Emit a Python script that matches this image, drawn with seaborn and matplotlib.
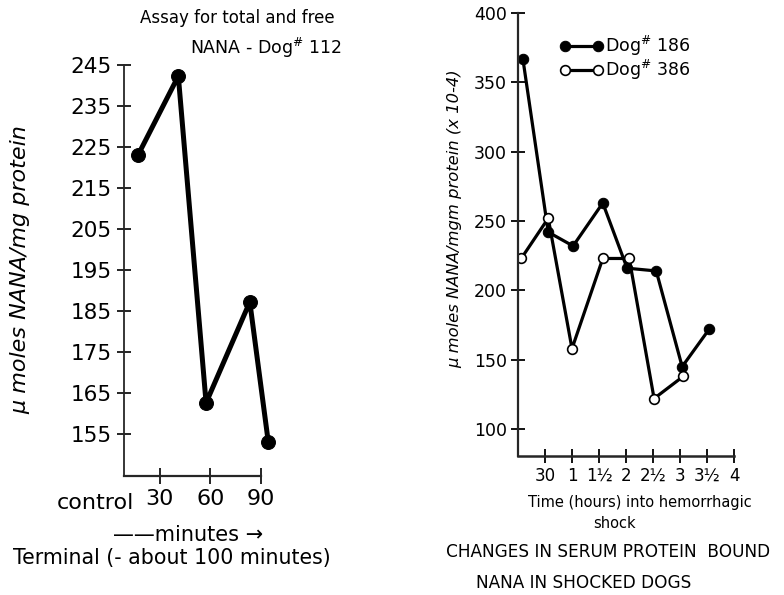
import matplotlib
matplotlib.use("Agg")
import matplotlib.pyplot as plt
import seaborn as sns
import pandas as pd
import numpy as np

# ---- data ----
# Left panel: Dog #112 (minutes into shock, umoles NANA/mg protein)
left_minutes = [17, 41, 57.5, 83.5, 94.5]
left_values = [223, 242.3, 162.6, 187.2, 153]
left_yticks = [155, 165, 175, 185, 195, 205, 215, 225, 235, 245]
left_xticks = [30, 60, 90]
left_xticklabels = ["30", "60", "90"]

# Right panel: hours into hemorrhagic shock
dog186_hours = [0.09, 0.56, 1.02, 1.57, 2.02, 2.56, 3.04, 3.54]
dog186_values = [367, 242, 232, 263, 216, 214, 145, 172]
dog386_hours = [0.06, 0.56, 1.0, 1.57, 2.06, 2.52, 3.06]
dog386_values = [223, 252, 158, 223, 223, 122, 138]
right_yticks = [100, 150, 200, 250, 300, 350, 400]
right_xticks = [0.5, 1, 1.5, 2, 2.5, 3, 3.5, 4]
right_xticklabels = ["30", "1", "1½", "2", "2½", "3", "3½", "4"]

sns.set_style("ticks")
plt.rcParams["font.family"] = ["DejaVu Sans"]
plt.rcParams["mathtext.default"] = "regular"
plt.rcParams["text.color"] = "black"

W, H = 784, 595
fig = plt.figure(figsize=(W / 100, H / 100), dpi=100)


def fx(x):
    return x / W


def fy(y):
    return 1 - y / H


# ---------------- left panel ----------------
axL = fig.add_axes([124 / W, 1 - 475.8 / H, (290 - 124) / W, (475.8 - 56.8) / H])
dfL = pd.DataFrame({"minutes": left_minutes, "value": left_values})
sns.lineplot(data=dfL, x="minutes", y="value", ax=axL, color="black",
             linewidth=3.6, marker="o", markersize=10,
             markerfacecolor="black", markeredgecolor="black", sort=False)
axL.set_xlim(8.7, 107.4)
axL.set_ylim(144.8, 247)
axL.spines["top"].set_visible(False)
axL.spines["right"].set_visible(False)
axL.spines["left"].set_bounds(144.8, 245)
axL.spines["bottom"].set_bounds(8.7, 90)
axL.spines["left"].set_linewidth(1.3)
axL.spines["bottom"].set_linewidth(1.6)
axL.set_yticks(left_yticks)
axL.set_yticklabels([str(v) for v in left_yticks])
axL.set_xticks(left_xticks)
axL.set_xticklabels(left_xticklabels)
axL.tick_params(axis="y", direction="inout", length=10, width=1.2,
                labelsize=15.5, pad=4, colors="black")
axL.tick_params(axis="x", direction="inout", length=11, width=1.2,
                labelsize=16, pad=4, colors="black")
axL.set_xlabel("")
axL.set_ylabel("")

fig.text(fx(20), fy(270), "μ moles NANA/mg protein", rotation=90,
         ha="center", va="center", fontsize=16, style="italic")
fig.text(fx(237), fy(18), "Assay for total and free", ha="center",
         va="center", fontsize=12)
fig.text(fx(342), fy(48), "NANA - Dog$^{\\#}$ 112", ha="right",
         va="center", fontsize=12.5)
fig.text(fx(95), fy(503), "control", ha="center", va="center", fontsize=16)
fig.text(fx(113), fy(535), "——minutes →", ha="left", va="center",
         fontsize=15)
fig.text(fx(13), fy(558), "Terminal (- about 100 minutes)", ha="left",
         va="center", fontsize=14.8)

# ---------------- right panel ----------------
axR = fig.add_axes([518 / W, 1 - 456.1 / H, 221.4 / W, (456.1 - 8.84) / H])
df186 = pd.DataFrame({"hours": dog186_hours, "value": dog186_values})
df386 = pd.DataFrame({"hours": dog386_hours, "value": dog386_values})
sns.lineplot(data=df186, x="hours", y="value", ax=axR, color="black",
             linewidth=2.3, marker="o", markersize=7.5,
             markerfacecolor="black", markeredgecolor="black",
             label="Dog$^{\\#}$ 186", sort=False)
sns.lineplot(data=df386, x="hours", y="value", ax=axR, color="black",
             linewidth=2.3, marker="o", markersize=7,
             markerfacecolor="white", markeredgecolor="black",
             markeredgewidth=1.2, label="Dog$^{\\#}$ 386", sort=False)
axR.set_xlim(0, 4.1)
axR.set_ylim(80.5, 403)
axR.spines["top"].set_visible(False)
axR.spines["right"].set_visible(False)
axR.spines["left"].set_bounds(80.5, 400)
axR.spines["bottom"].set_bounds(0, 4)
axR.spines["left"].set_linewidth(1.6)
axR.spines["bottom"].set_linewidth(1.8)
axR.set_yticks(right_yticks)
axR.set_yticklabels([str(v) for v in right_yticks])
axR.set_xticks(right_xticks)
axR.set_xticklabels(right_xticklabels)
axR.tick_params(axis="y", direction="inout", length=10, width=1.3,
                labelsize=12.5, pad=3, colors="black")
axR.tick_params(axis="x", direction="inout", length=10, width=1.3,
                labelsize=12, pad=3, colors="black")
axR.set_xlabel("")
axR.set_ylabel("")
leg = axR.legend(loc="upper left",
                 bbox_to_anchor=((560 - 518) / 221.4, 1 - (34 - 8.84) / 447.3),
                 frameon=False, numpoints=2, handlelength=2.5,
                 handletextpad=0.1, labelspacing=0.0, fontsize=12.5,
                 borderpad=0, borderaxespad=0)
for t in leg.get_texts():
    t.set_color("black")

fig.text(fx(455), fy(219), "μ moles NANA/mgm protein (x 10-4)", rotation=90,
         ha="center", va="center", fontsize=11.8, style="italic")
fig.text(fx(640), fy(502), "Time (hours) into hemorrhagic", ha="center",
         va="center", fontsize=10.5)
fig.text(fx(615), fy(523), "shock", ha="center", va="center", fontsize=10.5)
fig.text(fx(608), fy(552), "CHANGES IN SERUM PROTEIN  BOUND", ha="center",
         va="center", fontsize=12.2)
fig.text(fx(584), fy(583), "NANA IN SHOCKED DOGS", ha="center",
         va="center", fontsize=12.2)

fig.savefig("out.png", dpi=100)
